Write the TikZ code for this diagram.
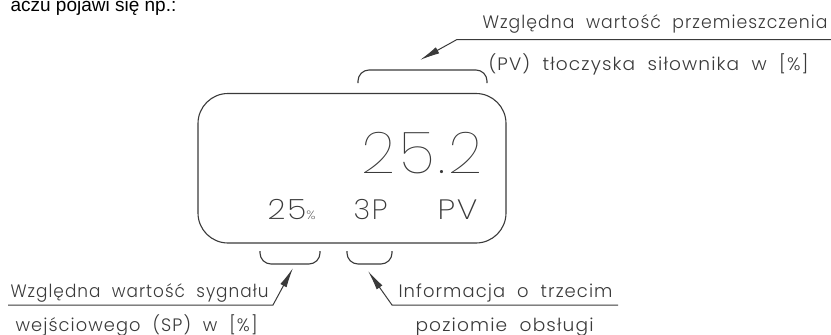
\documentclass[tikz,border=0pt]{standalone}
\usepackage{graphicx}
\usepackage{fontspec}
\setmainfont{Liberation Sans}
\newfontfamily\cad{Poppins Light}[LetterSpace=6,WordSpace=2]
\newfontfamily\cadd{Poppins ExtraLight}[LetterSpace=6]
\newfontfamily\cadt{Poppins Thin}[LetterSpace=6]
\newcommand\fitw[2]{\resizebox{#1pt}{\height}{#2}}
\usetikzlibrary{arrows.meta}
\definecolor{ink}{HTML}{3A3A3A}
\begin{document}
\begin{tikzpicture}[x=1pt,y=-1pt,
  line width=1.1pt,
  lbl/.style={anchor=base west, inner sep=0pt, text=ink, font=\cad\fontsize{18}{18}\selectfont},
  disp/.style={anchor=base west, inner sep=0pt, text=ink, font=\cadd\fontsize{28}{28}\selectfont},
  lead/.style={draw=ink, line width=1pt, -{Latex[length=20pt,width=7pt]}},
  brk/.style={draw=ink, line width=1.1pt, rounded corners=11pt}]
\useasboundingbox (0,0) rectangle (831,335);
% heading cut off
\node[anchor=base west, inner sep=0pt, font=\fontsize{19}{19}\selectfont] (head) at (10,11) {aczu pojawi się np.:};
% display frame
\node[draw=ink, line width=1.1pt, rounded corners=30pt, minimum width=308pt, minimum height=149.5pt, inner sep=0pt] (display) at (352,168.25) {};
\node[anchor=base west, inner sep=0pt, text=ink, font=\cadt\fontsize{58}{58}\selectfont] (pvval) at (361,173) {\fitw{121}{25.2}};
\node[disp] (sp) at (267,219) {\fitw{48}{25{\fontsize{12}{12}\selectfont\%}}};
\node[disp] (lvl) at (353,219) {\fitw{34}{3P}};
\node[disp] (pv) at (437,219) {\fitw{40}{PV}};
% brackets
\draw[brk] (358,83) -- (358,70) -- (487,70) -- (487,83);
\draw[brk] (260,251) -- (260,264) -- (320,264) -- (320,251);
\draw[brk] (347,251) -- (347,264) -- (392,264) -- (392,251);
% leaders
\coordinate (ta) at (831,39.5);
\coordinate (tb) at (457,39.5);
\coordinate (tc) at (420,60);
\draw[lead] (ta) -- (tb) -- (tc);
\coordinate (la) at (8,305);
\coordinate (lb) at (273,305);
\coordinate (lc) at (293,268);
\draw[lead] (la) -- (lb) -- (lc);
\coordinate (ra) at (618,305);
\coordinate (rb) at (392,305);
\coordinate (rc) at (368,271);
\draw[lead] (ra) -- (rb) -- (rc);
% labels
\node[lbl] (t1) at (482,28) {\fitw{345}{Względna wartość przemieszczenia}};
\node[lbl] (t2) at (488,70) {\fitw{320}{(PV) tłoczyska siłownika w [\%]}};
\node[lbl] (l1) at (10,297) {\fitw{258}{Względna wartość sygnału}};
\node[lbl] (l2) at (15,331) {\fitw{242}{wejściowego (SP) w [\%]}};
\node[lbl] (r1) at (398,297) {\fitw{214}{Informacja o trzecim}};
\node[lbl] (r2) at (415,331) {\fitw{178}{poziomie obsługi}};
\end{tikzpicture}
\end{document}
